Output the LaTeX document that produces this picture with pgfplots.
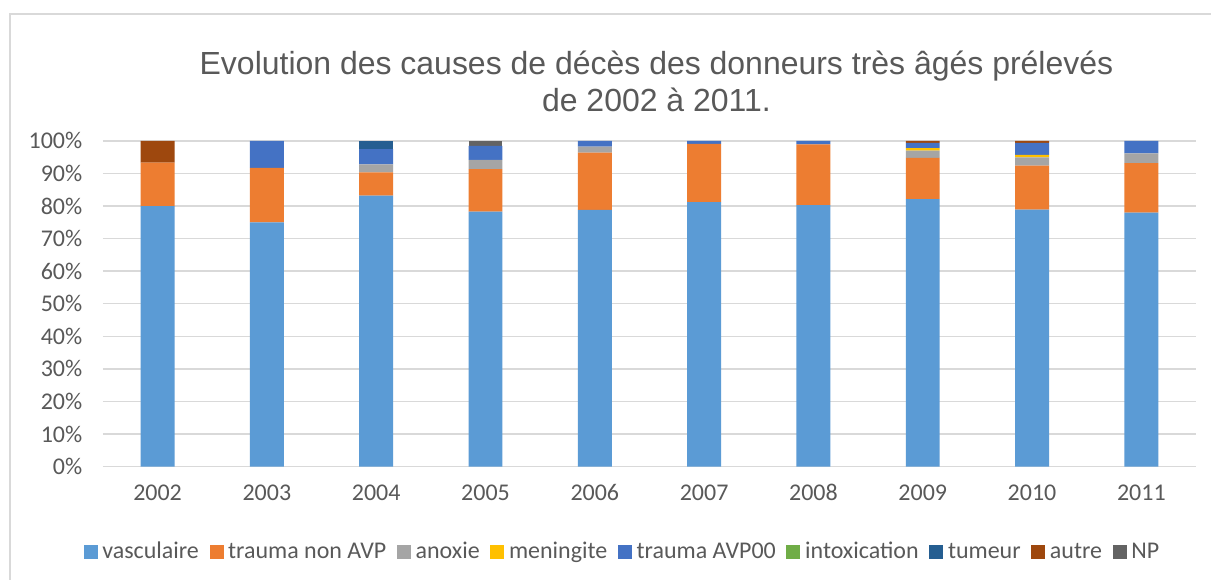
\documentclass[border=0pt]{standalone}
\usepackage{pgfplots}
\pgfplotsset{compat=1.18}
\usepackage{fontspec}
\setmainfont{Carlito}
\newfontfamily\titlefont{Liberation Sans}
\definecolor{txt}{HTML}{595959}
\definecolor{gridc}{HTML}{D9D9D9}
\definecolor{cvasc}{HTML}{5B9BD5}
\definecolor{ctnon}{HTML}{ED7D31}
\definecolor{canox}{HTML}{A5A5A5}
\definecolor{cmen}{HTML}{FFC000}
\definecolor{cavp}{HTML}{4472C4}
\definecolor{cintox}{HTML}{70AD47}
\definecolor{ctum}{HTML}{255E91}
\definecolor{cautre}{HTML}{9E480E}
\definecolor{cnp}{HTML}{636363}
\begin{document}
\begin{tikzpicture}[x=0.75pt,y=0.75pt]
\path[fill=white] (0,0) rectangle (1212,580);
\draw[gridc, line width=1.5pt] (10,0) -- (10,566) -- (1212,566);
\node[font=\titlefont\fontsize{24}{27.75}\selectfont, text=txt, align=center] at (657,499) {Evolution des causes de décès des donneurs très âgés prélevés\\de 2002 à 2011.};
\begin{axis}[
  at={(77.25pt,84.75pt)}, anchor=south west,
  scale only axis, width=820.5pt, height=244.5pt,
  ybar stacked, bar width=25.5pt,
  xmin=-0.5, xmax=9.5, ymin=0, ymax=100,
  xtick={0,...,9},
  xticklabels={2002,2003,2004,2005,2006,2007,2008,2009,2010,2011},
  ytick={0,10,...,100},
  yticklabel={\pgfmathprintnumber{\tick}\%},
  ymajorgrids, grid style={gridc, line width=1.1pt},
  axis line style={draw=none},
  major tick length=0pt,
  tick label style={font=\fontsize{18}{21}\selectfont, text=txt},
  yticklabel style={xshift=-12pt},
  xticklabel style={yshift=-10pt, text height=12pt, text depth=0pt},
  /pgf/number format/assume math mode=true,
  legend style={at={(0.4744,-0.2607)}, anchor=center, draw=none, fill=none,
    font=\fontsize{18}{21}\selectfont, text=txt, legend columns=-1,
    /tikz/every odd column/.append style={column sep=3.5pt},
    /tikz/every even column/.append style={column sep=8pt},
    nodes={inner xsep=0pt, inner ysep=1pt}},
  legend image code/.code={\fill[#1] (0pt,-5.25pt) rectangle (10.5pt,5.25pt);},
  every axis plot/.append style={draw=none},
]
\addplot[fill=cvasc] coordinates {(0,80) (1,75) (2,83.2) (3,78.3) (4,78.8) (5,81.2) (6,80.3) (7,82.1) (8,78.9) (9,78.0)};
\addplot[fill=ctnon] coordinates {(0,13.3) (1,16.7) (2,7.1) (3,13.0) (4,17.6) (5,17.9) (6,18.6) (7,12.7) (8,13.5) (9,15.2)};
\addplot[fill=canox] coordinates {(0,0) (1,0) (2,2.5) (3,2.9) (4,1.8) (5,0) (6,0) (7,2.2) (8,2.5) (9,3.0)};
\addplot[fill=cmen] coordinates {(0,0) (1,0) (2,0) (3,0) (4,0) (5,0) (6,0) (7,0.8) (8,0.8) (9,0)};
\addplot[fill=cavp] coordinates {(0,0) (1,8.3) (2,4.7) (3,4.3) (4,1.8) (5,0.9) (6,1.1) (7,1.6) (8,3.7) (9,3.8)};
\addplot[fill=cintox] coordinates {(0,0) (1,0) (2,0) (3,0) (4,0) (5,0) (6,0) (7,0) (8,0) (9,0)};
\addplot[fill=ctum] coordinates {(0,0) (1,0) (2,2.5) (3,0) (4,0) (5,0) (6,0) (7,0) (8,0) (9,0)};
\addplot[fill=cautre] coordinates {(0,6.7) (1,0) (2,0) (3,0) (4,0) (5,0) (6,0) (7,0.6) (8,0.6) (9,0)};
\addplot[fill=cnp] coordinates {(0,0) (1,0) (2,0) (3,1.5) (4,0) (5,0) (6,0) (7,0) (8,0) (9,0)};
\legend{vasculaire, trauma non AVP, anoxie, meningite, trauma AVP00, intoxication, tumeur, autre, NP}
\end{axis}
\end{tikzpicture}
\end{document}
